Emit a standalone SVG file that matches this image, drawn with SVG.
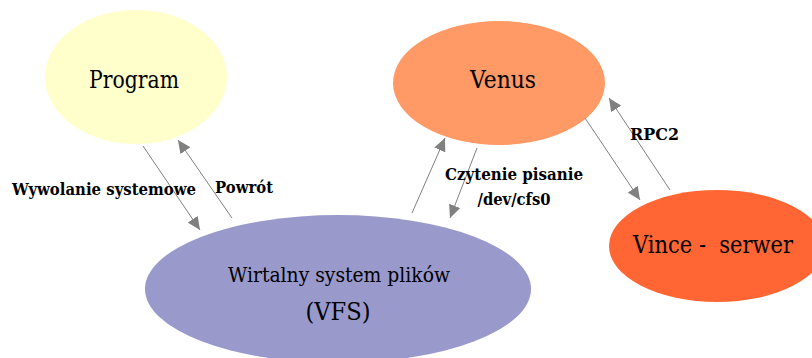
<svg xmlns="http://www.w3.org/2000/svg" width="812" height="358" viewBox="0 0 812 358">
<style>
.n{font-family:'DejaVu Serif','Liberation Serif','Times New Roman',serif;font-size:23.5px;fill:#000;text-anchor:middle}
.l{font-family:'DejaVu Serif','Liberation Serif','Times New Roman',serif;font-size:16.8px;font-weight:bold;fill:#000}
.c{stroke:#808080;stroke-width:1;fill:none;marker-end:url(#ah)}
</style>
<defs>
<marker id="ah" markerUnits="userSpaceOnUse" markerWidth="14" markerHeight="12" refX="13" refY="6" orient="auto">
<path d="M0,0 L13,6 L0,12 Z" fill="#808080"/>
</marker>
</defs>
<rect width="812" height="358" fill="#fff"/>
<g id="program">
<ellipse cx="136" cy="77" rx="91" ry="67" fill="#FFFFCC"/>
<text class="n" x="134" y="88" textLength="90" lengthAdjust="spacingAndGlyphs">Program</text>
</g>
<g id="venus">
<ellipse cx="499" cy="83" rx="106" ry="62" fill="#FF9966"/>
<text class="n" x="503" y="88" textLength="66" lengthAdjust="spacingAndGlyphs">Venus</text>
</g>
<g id="vfs">
<ellipse cx="338" cy="289" rx="193" ry="74" fill="#9999CC"/>
<text class="n" x="339" y="282" style="font-size:21px" textLength="222" lengthAdjust="spacingAndGlyphs">Wirtalny system plików</text>
<text class="n" x="338" y="320" textLength="65" lengthAdjust="spacingAndGlyphs">(VFS)</text>
</g>
<g id="vince">
<ellipse cx="717" cy="246" rx="108" ry="56" fill="#FF6633"/>
<text class="n" x="713" y="253" xml:space="preserve" textLength="160" lengthAdjust="spacingAndGlyphs">Vince -  serwer</text>
</g>
<g id="connectors">
<line class="c" x1="143" y1="146" x2="200" y2="230"/>
<line class="c" x1="232" y1="218" x2="178" y2="140"/>
<line class="c" x1="412" y1="213" x2="445" y2="138"/>
<line class="c" x1="477" y1="148" x2="450" y2="218"/>
<line class="c" x1="585" y1="118" x2="640" y2="200"/>
<line class="c" x1="670" y1="190" x2="609" y2="98"/>
<text class="l" x="12" y="195" textLength="184" lengthAdjust="spacingAndGlyphs">Wywolanie systemowe</text>
<text class="l" x="215" y="193" textLength="58" lengthAdjust="spacingAndGlyphs">Powrót</text>
<text class="l" x="514" y="180" text-anchor="middle" textLength="138" lengthAdjust="spacingAndGlyphs">Czytenie pisanie</text>
<text class="l" x="514" y="205" text-anchor="middle" textLength="73" lengthAdjust="spacingAndGlyphs">/dev/cfs0</text>
<text class="l" x="630" y="140" textLength="49" lengthAdjust="spacingAndGlyphs">RPC2</text>
</g>
</svg>
